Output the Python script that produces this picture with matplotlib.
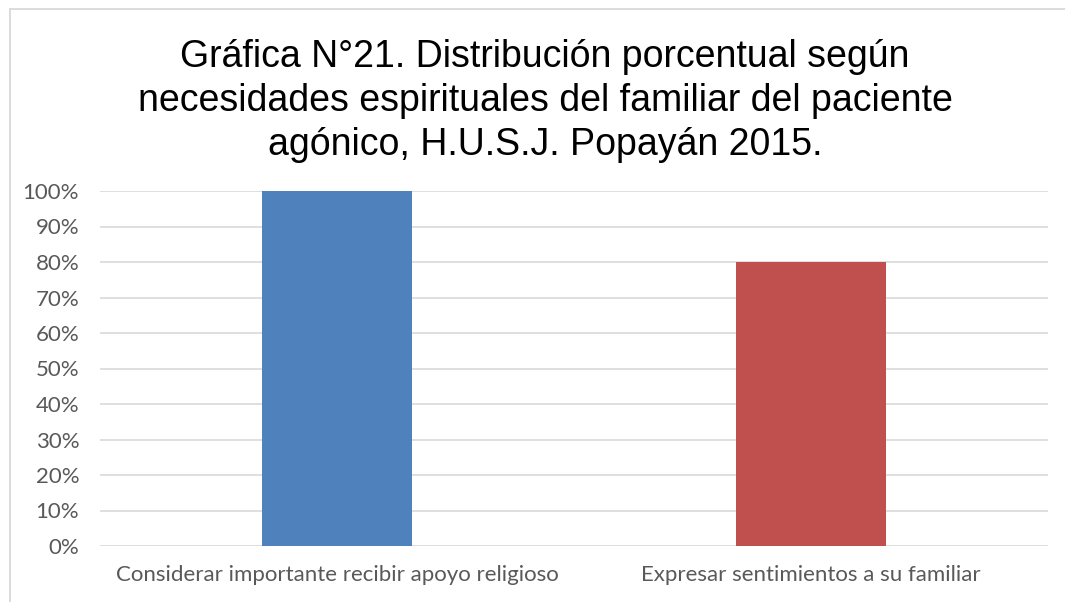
import matplotlib.pyplot as plt
from matplotlib.lines import Line2D
from matplotlib.ticker import PercentFormatter

categorias = ["Considerar importante recibir apoyo religioso", "Expresar sentimientos a su familiar"]
valores = [1.00, 0.80]
colores = ["#4F81BD", "#C0504D"]
titulo = "Gráfica N°21. Distribución porcentual según\nnecesidades espirituales del familiar del paciente\nagónico, H.U.S.J. Popayán 2015."

fig = plt.figure(figsize=(10.65, 6.02), dpi=100)
# borde del área del gráfico (solo izquierda y arriba quedan visibles)
bx, by = 9.5 / 1065, 1 - 8.5 / 602
fig.lines.append(Line2D([bx, bx], [0, by], transform=fig.transFigure, color="#d9d9d9", linewidth=1.3))
fig.lines.append(Line2D([bx, 1], [by, by], transform=fig.transFigure, color="#d9d9d9", linewidth=1.3))

ax = fig.add_axes([100 / 1065, 1 - 546 / 602, 948 / 1065, 355 / 602])
ax.bar(range(len(categorias)), valores, width=0.315, color=colores, zorder=3)
ax.set_xlim(-0.5, 1.5)
ax.set_ylim(0, 1)
ax.set_yticks([i / 10 for i in range(11)])
ax.yaxis.set_major_formatter(PercentFormatter(1.0, decimals=0))
ax.set_xticks(range(len(categorias)))
ax.set_xticklabels(categorias)
ax.grid(axis="y", color="#d9d9d9", linewidth=1.2, zorder=0)
for s in ax.spines.values():
    s.set_visible(False)
ax.tick_params(length=0, labelcolor="#595959", labelsize=16)
ax.tick_params(axis="y", pad=15)
ax.tick_params(axis="x", pad=14)
for lbl in ax.get_xticklabels() + ax.get_yticklabels():
    lbl.set_family("Lato")

fig.text(545 / 1065, 1 - 101 / 602, titulo, ha="center", va="center", fontsize=27,
         family="Liberation Sans", linespacing=1.27)

fig.savefig("out.png", dpi=100)
